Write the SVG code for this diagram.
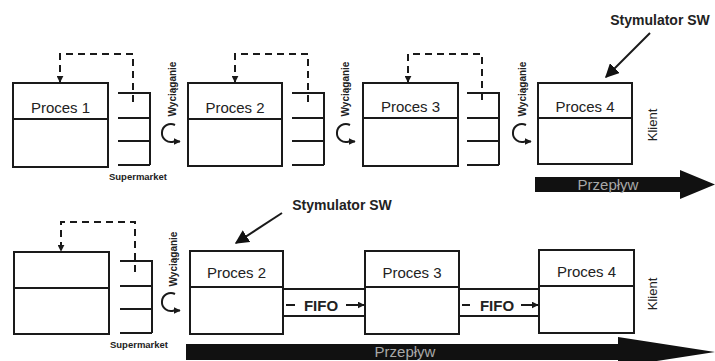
<svg xmlns="http://www.w3.org/2000/svg" width="715" height="361" viewBox="0 0 715 361">
<defs>
<style>
.box{fill:#fff;stroke:#1a1a1a;stroke-width:2}
.ln{fill:none;stroke:#1a1a1a;stroke-width:2}
.dash{fill:none;stroke:#1a1a1a;stroke-width:2;stroke-dasharray:7 5}
.t{font-family:"Liberation Sans",Arial,sans-serif;fill:#222}
.pl{font-size:15px}
.sm{font-size:9.5px;font-weight:bold}
.wy{font-size:10px;font-weight:bold}
.kl{font-size:13px}
.st{font-size:14px;font-weight:bold}
.ff{font-size:15px;font-weight:bold}
.fl{font-size:15px;fill:#a8a8a8}
</style>
<marker id="ah" viewBox="0 0 10 10" refX="9" refY="5" markerWidth="7" markerHeight="7" orient="auto" markerUnits="userSpaceOnUse">
<path d="M0,0 L10,5 L0,10 z" fill="#1a1a1a"/>
</marker>
<marker id="ahs" viewBox="0 0 10 10" refX="9" refY="5" markerWidth="7" markerHeight="7" orient="auto" markerUnits="userSpaceOnUse">
<path d="M0,0 L10,5 L0,10 z" fill="#1a1a1a"/>
</marker>
<marker id="ahb" viewBox="0 0 10 10" refX="9" refY="5" markerWidth="14" markerHeight="14" orient="auto" markerUnits="userSpaceOnUse">
<path d="M0,0 L10,5 L0,10 z" fill="#111"/>
</marker>
<g id="sup">
<path class="ln" d="M0,0 H32 V72 M0,25 H32 M0,48 H32 M0,72 H32"/>
</g>
<g id="circ">
<path class="ln" stroke-width="2.2" d="M6,-8 A9,9 0 1 0 5,8.5 L11,8.5" marker-end="url(#ahs)"/>
</g>
</defs>
<rect width="715" height="361" fill="#fff"/>

<g id="proces1">
<rect class="box" x="13" y="83" width="95" height="84"/>
<line class="ln" x1="13" y1="119" x2="108" y2="119"/>
<text class="t pl" x="60.5" y="113" text-anchor="middle">Proces 1</text>
</g>
<g id="supermarket1">
<use href="#sup" x="118" y="93"/>
<text class="t sm" x="138" y="180" text-anchor="middle">Supermarket</text>
<text class="t wy" transform="translate(175.5,89) rotate(-90)" text-anchor="middle">Wyciąganie</text>
<use href="#circ" x="169" y="133"/>
</g>
<g id="proces2">
<rect class="box" x="188" y="83" width="94" height="83"/>
<line class="ln" x1="188" y1="119" x2="282" y2="119"/>
<text class="t pl" x="235" y="113" text-anchor="middle">Proces 2</text>
</g>
<g id="supermarket2">
<use href="#sup" x="292" y="93"/>
<text class="t wy" transform="translate(348.5,89) rotate(-90)" text-anchor="middle">Wyciąganie</text>
<use href="#circ" x="344" y="133"/>
</g>
<g id="proces3">
<rect class="box" x="363" y="83" width="95" height="83"/>
<line class="ln" x1="363" y1="118" x2="458" y2="118"/>
<text class="t pl" x="410.5" y="112" text-anchor="middle">Proces 3</text>
</g>
<g id="supermarket3">
<use href="#sup" x="467" y="93"/>
<text class="t wy" transform="translate(525.5,89) rotate(-90)" text-anchor="middle">Wyciąganie</text>
<use href="#circ" x="520" y="133"/>
</g>
<g id="proces4">
<rect class="box" x="538" y="83" width="94" height="81"/>
<line class="ln" x1="538" y1="118" x2="632" y2="118"/>
<text class="t pl" x="585" y="112" text-anchor="middle">Proces 4</text>
<text class="t kl" transform="translate(657,125) rotate(-90)" text-anchor="middle">Klient</text>
</g>
<g id="stymulator1">
<text class="t st" x="660" y="25" text-anchor="middle">Stymulator SW</text>
</g>
<g id="przeplyw1">
<path d="M535,177 H680 V170 L715,184.5 L680,199 V192 H535 Z" fill="#111"/>
<text class="t fl" x="608" y="190" text-anchor="middle">Przepływ</text>
</g>

<g id="proces1b">
<rect class="box" x="14" y="252" width="95" height="82"/>
<line class="ln" x1="14" y1="288" x2="109" y2="288"/>
</g>
<g id="supermarket1b">
<use href="#sup" x="120" y="261"/>
<text class="t sm" x="139" y="348" text-anchor="middle">Supermarket</text>
<text class="t wy" transform="translate(176.5,259) rotate(-90)" text-anchor="middle">Wyciąganie</text>
<use href="#circ" x="169" y="302"/>
</g>
<g id="proces2b">
<rect class="box" x="190" y="251" width="93" height="83"/>
<line class="ln" x1="190" y1="287" x2="283" y2="287"/>
<text class="t pl" x="236.5" y="278" text-anchor="middle">Proces 2</text>
</g>
<g id="fifo1">
<text class="t ff" x="321" y="311" text-anchor="middle">FIFO</text>
</g>
<g id="proces3b">
<rect class="box" x="365" y="251" width="94" height="83"/>
<line class="ln" x1="365" y1="287" x2="459" y2="287"/>
<text class="t pl" x="412" y="278" text-anchor="middle">Proces 3</text>
</g>
<g id="fifo2">
<text class="t ff" x="497" y="311" text-anchor="middle">FIFO</text>
</g>
<g id="proces4b">
<rect class="box" x="539" y="250" width="95" height="83"/>
<line class="ln" x1="539" y1="286" x2="634" y2="286"/>
<text class="t pl" x="586.5" y="277" text-anchor="middle">Proces 4</text>
<text class="t kl" transform="translate(657,294) rotate(-90)" text-anchor="middle">Klient</text>
</g>
<g id="stymulator2">
<text class="t st" x="342" y="210" text-anchor="middle">Stymulator SW</text>
</g>
<g id="przeplyw2">
<path d="M186,344 H618 V337 L715,352 L618,367 V360 H186 Z" fill="#111"/>
<text class="t fl" x="405" y="357" text-anchor="middle">Przepływ</text>
</g>

<g id="connectors">
<path class="dash" d="M133,102 V54 H60 V82" marker-end="url(#ah)"/>
<path class="dash" d="M308,102 V54 H235 V82" marker-end="url(#ah)"/>
<path class="dash" d="M482,100 V54 H408 V82" marker-end="url(#ah)"/>
<path class="dash" d="M135,272 V222 H61 V251" marker-end="url(#ah)"/>
<line class="ln" x1="650" y1="33" x2="606" y2="77" stroke-width="2.5" marker-end="url(#ahb)"/>
<line class="ln" x1="282" y1="213" x2="236" y2="243" stroke-width="2.5" marker-end="url(#ahb)"/>
<path class="ln" d="M283,289 H365 M283,316 H365"/>
<path class="ln" d="M459,289 H539 M459,316 H539"/>
<path class="ln" d="M286,305 H295"/>
<path class="ln" d="M346,305 H364" marker-end="url(#ah)"/>
<path class="ln" d="M462,305 H470"/>
<path class="ln" d="M521,305 H538" marker-end="url(#ah)"/>
</g>
</svg>
